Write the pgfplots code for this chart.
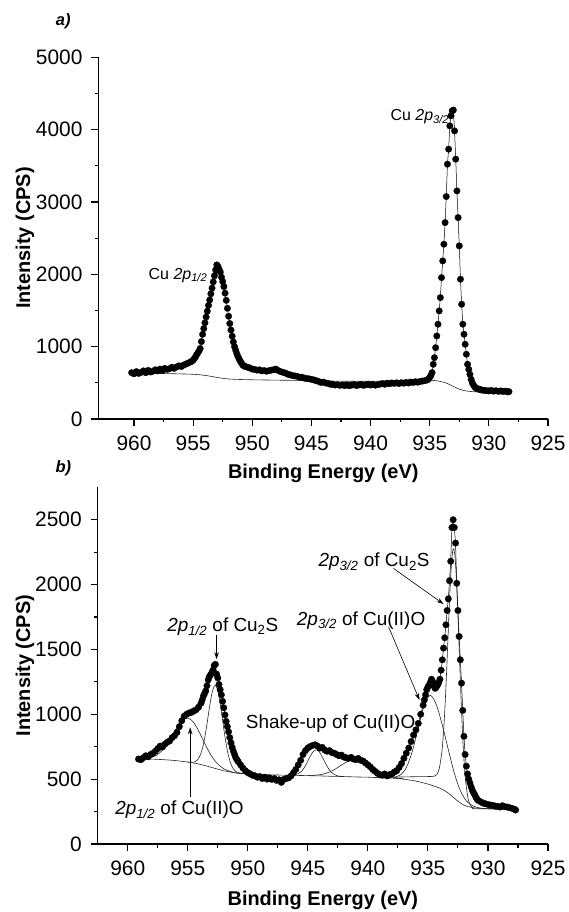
\documentclass[border=0pt]{standalone}
\usepackage{fontspec}
\setmainfont{Liberation Sans}
\usepackage{pgfplots}
\pgfplotsset{compat=1.18}
\usepackage{pgfplotstable}
\usetikzlibrary{arrows.meta}

\pgfplotstableread{
x y
960.2 640
960.0 625
959.8 655
959.6 630
959.4 645
959.2 665
959.0 640
958.8 672
958.6 650
958.4 660
958.2 680
958.0 665
957.8 690
957.6 675
957.4 700
957.2 685
957.0 695
956.8 715
956.6 700
956.4 720
956.2 735
956.0 725
955.8 745
955.6 760
955.4 775
955.2 790
955.1 800
955.0 815
954.9 835
954.8 860
954.7 890
954.6 915
954.5 940
954.4 975
954.3 1070
954.2 1170
954.1 1250
954.0 1330
953.9 1410
953.8 1490
953.7 1570
953.6 1645
953.5 1730
953.4 1810
953.3 1895
953.2 1980
953.1 2060
953.0 2130
952.9 2110
952.8 2070
952.7 2030
952.6 1960
952.5 1900
952.4 1830
952.3 1740
952.2 1640
952.1 1530
952.0 1420
951.9 1320
951.8 1230
951.7 1145
951.6 1065
951.5 1000
951.4 950
951.3 900
951.2 860
951.1 825
951.0 795
950.9 770
950.8 745
950.7 735
950.6 725
950.4 715
950.2 705
950.0 690
949.8 685
949.6 675
949.4 680
949.2 665
949.0 670
948.8 660
948.6 668
948.4 675
948.2 680
948.0 690
947.8 670
947.6 655
947.4 645
947.2 635
947.0 620
946.8 610
946.6 600
946.4 595
946.2 590
946.0 575
945.8 578
945.6 565
945.4 560
945.2 555
945.0 548
944.8 540
944.6 530
944.4 520
944.2 505
944.0 510
943.8 498
943.6 492
943.4 480
943.2 478
943.0 470
942.8 475
942.6 465
942.4 472
942.2 462
942.0 470
941.8 460
941.6 468
941.4 475
941.2 462
941.0 470
940.8 478
940.6 465
940.4 472
940.2 480
940.0 470
939.8 478
939.6 468
939.4 475
939.2 482
939.0 490
938.8 480
938.6 495
938.4 488
938.2 498
938.0 492
937.8 500
937.6 490
937.4 502
937.2 495
937.0 505
936.8 498
936.6 510
936.4 505
936.2 515
936.0 508
935.8 520
935.6 525
935.4 530
935.2 540
935.1 555
935.0 575
934.9 600
934.8 641
934.7 756
934.6 848
934.5 986
934.4 1148
934.3 1310
934.2 1494
934.1 1678
934.0 1954
933.9 2185
933.8 2416
933.7 2715
933.6 3075
933.5 3522
933.4 3730
933.3 4052
933.2 4191
933.1 4260
933.0 4270
932.9 3983
932.8 3592
932.7 3153
932.6 2784
932.5 2393
932.4 1932
932.3 1586
932.2 1310
932.1 1171
932.0 1033
931.9 895
931.8 756
931.7 687
931.6 618
931.5 549
931.4 500
931.3 470
931.2 445
931.1 430
931.0 420
930.9 415
930.8 410
930.7 405
930.6 400
930.4 395
930.2 392
930.0 388
929.8 395
929.6 385
929.4 390
929.2 382
929.0 388
928.8 380
928.6 385
928.4 375
928.3 378
}\dataA

\pgfplotstableread{
x y
960.2 635
959 632
958 630
957 627
956 623
955 618
954.5 612
954 603
953.5 590
953 575
952.5 562
952 553
951 546
950 542
948 537
946 533
944 527
942 522
940 522
938 527
936 533
935 535
934.5 530
934 515
933.5 490
933 450
932.5 412
932 390
931.5 380
931 376
928.3 375
}\bgA

\pgfplotstableread{
x y
959.1 655
958.9 650
958.7 665
958.5 680
958.3 672
958.1 690
957.9 700
957.7 715
957.5 735
957.3 755
957.1 748
956.9 770
956.7 785
956.5 795
956.3 820
956.1 835
955.9 860
955.7 905
955.5 950
955.3 985
955.1 1000
954.9 1010
954.7 1015
954.5 1025
954.3 1035
954.1 1055
953.9 1085
953.8 1110
953.7 1140
953.6 1160
953.5 1180
953.4 1220
953.3 1265
953.2 1290
953.1 1305
953.0 1320
952.9 1340
952.8 1375
952.7 1385
952.6 1310
952.5 1280
952.4 1230
952.3 1190
952.2 1150
952.1 1100
952.0 1050
951.9 995
951.8 945
951.7 905
951.6 865
951.5 820
951.4 780
951.3 745
951.2 715
951.1 690
951.0 665
950.9 650
950.8 635
950.6 610
950.4 585
950.2 565
950.0 550
949.8 540
949.6 530
949.4 525
949.2 515
949.0 520
948.8 505
948.6 515
948.4 500
948.2 510
948.0 498
947.8 505
947.6 490
947.4 495
947.2 475
947.0 498
946.8 505
946.6 510
946.4 525
946.2 550
946.0 575
945.8 610
945.6 645
945.4 690
945.2 720
945.0 740
944.8 752
944.6 760
944.4 765
944.2 755
944.0 740
943.8 745
943.6 725
943.4 715
943.2 720
943.0 705
942.8 700
942.6 690
942.4 680
942.2 685
942.0 670
941.8 665
941.6 660
941.4 668
941.2 655
941.0 650
940.8 660
940.6 645
940.4 640
940.2 625
940.0 610
939.8 595
939.6 575
939.4 560
939.2 545
939.0 535
938.8 530
938.6 540
938.4 525
938.2 535
938.0 540
937.8 555
937.6 565
937.4 590
937.2 620
937.0 660
936.8 700
936.6 740
936.4 790
936.2 840
936.0 880
935.8 930
935.6 1000
935.4 1070
935.3 1110
935.2 1150
935.1 1190
935.0 1210
934.9 1225
934.8 1245
934.7 1270
934.6 1250
934.5 1220
934.4 1200
934.3 1210
934.2 1225
934.1 1245
934.0 1270
933.9 1340
933.8 1420
933.7 1510
933.6 1590
933.5 1690
933.4 1800
933.3 1890
933.2 2030
933.1 2180
933.0 2440
932.9 2500
932.8 2440
932.7 2320
932.6 2010
932.5 1800
932.4 1600
932.3 1420
932.2 1240
932.1 1030
932.0 830
931.9 690
931.8 600
931.7 540
931.6 500
931.5 470
931.4 440
931.3 415
931.2 395
931.1 380
931.0 360
930.9 345
930.8 335
930.6 325
930.4 315
930.2 310
930.0 305
929.8 300
929.6 298
929.4 292
929.2 290
929.0 285
928.8 295
928.6 288
928.4 285
928.2 280
928.0 275
927.8 268
927.7 262
}\dataB

\pgfplotstableread{
x y
958.3 656
957 650
956 643
955 632
954.5 624
954 615
953.5 603
953 590
952.5 577
952 565
951.5 556
951 548
950 540
948 533
946 529
945 527
944 525
943 522
942 520
941 517
940 515
939 511
938 508
937.5 504
937 500
936.5 493
936 485
935.5 474
935 462
934.5 447
934 430
933.5 405
933 370
932.5 330
932 300
931.5 285
931 277
930 272
929 270
927.8 270
}\fitBzero

\pgfplotstableread{
x y
958.3 660
958 668
957.5 690
957 735
956.5 803
956 883
955.5 950
955 972
954.5 936
954 855
953.5 759
953 675
952.5 616
952 580
951.5 561
951 548
950 540
}\fitBone

\pgfplotstableread{
x y
955.0 632
954.7 630
954.45 632
954.2 647
953.95 687
953.7 767
953.45 895
953.2 1048
952.95 1177
952.7 1223
952.45 1164
952.2 1023
951.95 857
951.7 719
951.45 628
951.2 579
950.95 556
950.7 548
950.0 540
}\fitBtwo

\pgfplotstableread{
x y
946.3 532
946.05 535
945.8 542
945.55 558
945.3 588
945.05 630
944.8 676
944.55 712
944.3 726
944.05 711
943.8 673
943.55 626
943.3 584
943.05 553
942.8 536
942.55 526
942.3 522
}\fitBthree

\pgfplotstableread{
x y
945.0 528
944.5 530
944.0 534
943.5 545
943.0 563
942.5 590
942.0 620
941.5 644
941.0 652
940.5 641
940.0 615
939.5 582
939.0 552
938.5 531
938.0 517
937.5 508
937.0 501
}\fitBfour

\pgfplotstableread{
x y
937.8 515
937.3 532
936.8 589
936.3 714
935.8 897
935.3 1075
934.8 1146
934.3 1074
933.8 916
933.3 727
932.8 546
932.3 411
931.8 333
931.3 296
930.8 280
930.3 274
929.5 271
927.8 270
}\fitBfive

\pgfplotstableread{
x y
939.5 513
938 515
937 517
936 519
935 520
934.45 523
934.25 537
934.05 583
933.85 701
933.75 801
933.65 937
933.55 1110
933.45 1315
933.35 1540
933.25 1766
933.15 1977
933.05 2144
932.95 2251
932.85 2276
932.75 2219
932.65 2080
932.55 1882
932.45 1642
932.35 1388
932.25 1141
932.15 918
932.05 732
931.95 585
931.85 476
931.65 347
931.45 296
931.25 276
931.0 271
927.8 270
}\fitBsix

\newcommand{\tickfont}{\fontsize{21}{24}\selectfont}
\pgfplotsset{
  xps/.style={
    scale only axis,
    x dir=reverse,
    xmin=925,
    axis x line*=bottom, axis y line*=left,
    axis line style={-, line width=1.1bp},
    tick align=outside,
    xtick={925,930,...,960},
    minor x tick num=1, minor y tick num=1,
    major tick length=7bp, minor tick length=3.5bp,
    every tick/.style={black, line width=1.1bp},
    /pgf/number format/assume math mode=true,
    /pgf/number format/1000 sep={},
    scaled ticks=false,
    xticklabel style={font=\tickfont, anchor=north, yshift=-6bp},
    yticklabel style={font=\tickfont, anchor=east, xshift=-5.5bp},
    every axis label/.append style={font=\fontsize{20}{24}\selectfont\bfseries},
    clip=false,
  },
  datast/.style={black, line width=0.5bp, mark=*, mark size=3.3bp,
    mark options={fill=black, draw=black, line width=0.2bp}},
  fitst/.style={black!85, line width=0.6bp, smooth, no markers},
}

\begin{document}
\begin{tikzpicture}
% ---------------- a) ----------------
\begin{axis}[xps,
  at={(98.5bp,493bp)}, anchor=south west,
  width=449.5bp, height=361.7bp,
  xmax=963, ymin=0, ymax=5000,
  ytick={0,1000,...,5000},
  xlabel={Binding Energy (eV)},
  ylabel={Intensity (CPS)},
  xlabel style={at={(axis description cs:0.5,-0.1493)}, anchor=center},
  ylabel style={at={(axis description cs:-0.1635,0.5)}, anchor=center},
]
\addplot[fitst] table[x=x,y=y] {\bgA};
\addplot[datast] table[x=x,y=y] {\dataA};
\node[anchor=base west, font=\fontsize{16}{19}\selectfont] at (axis cs:959.05,1935) {Cu \textit{2p}\textsubscript{\textit{1/2}}};
\node[anchor=base west, font=\fontsize{16}{19}\selectfont] at (axis cs:938.6,4123) {Cu \textit{2p}\textsubscript{\textit{3/2}}};
\end{axis}
% ---------------- b) ----------------
\begin{axis}[xps,
  at={(97.7bp,68bp)}, anchor=south west,
  width=450.3bp, height=356.7bp,
  xmax=962.5, ymin=0, ymax=2750,
  ytick={0,500,...,2500},
  xlabel={Binding Energy (eV)},
  ylabel={Intensity (CPS)},
  xlabel style={at={(axis description cs:0.5,-0.157)}, anchor=center},
  ylabel style={at={(axis description cs:-0.1614,0.5)}, anchor=center},
]
\addplot[fitst] table[x=x,y=y] {\fitBzero};
\addplot[fitst] table[x=x,y=y] {\fitBone};
\addplot[fitst] table[x=x,y=y] {\fitBtwo};
\addplot[fitst] table[x=x,y=y] {\fitBthree};
\addplot[fitst] table[x=x,y=y] {\fitBfour};
\addplot[fitst] table[x=x,y=y] {\fitBfive};
\addplot[fitst] table[x=x,y=y] {\fitBsix};
\addplot[datast] table[x=x,y=y] {\dataB};
\node[anchor=base west, font=\fontsize{19}{22}\selectfont] at (axis cs:957.0,1637) {\textit{2p}\textsubscript{\textit{1/2}} of Cu\textsubscript{2}S};
\node[anchor=base west, font=\fontsize{19}{22}\selectfont] at (axis cs:950.45,892) {Shake-up of Cu(II)O};
\node[anchor=base west, font=\fontsize{19}{22}\selectfont] at (axis cs:961.33,224) {\textit{2p}\textsubscript{\textit{1/2}} of Cu(II)O};
\node[anchor=base west, font=\fontsize{19}{22}\selectfont] at (axis cs:944.4,2138) {\textit{2p}\textsubscript{\textit{3/2}} of Cu\textsubscript{2}S};
\node[anchor=base west, font=\fontsize{19}{22}\selectfont] at (axis cs:946.2,1688) {\textit{2p}\textsubscript{\textit{3/2}} of Cu(II)O};
\draw[-{Stealth[length=7bp,width=4.5bp]}, line width=0.6bp] (axis cs:954.8,365) -- (axis cs:954.8,900);
\draw[-{Stealth[length=7bp,width=4.5bp]}, line width=0.6bp] (axis cs:952.6,1611) -- (axis cs:952.6,1424);
\draw[-{Stealth[length=7bp,width=4.5bp]}, line width=0.6bp] (axis cs:937.87,2125) -- (axis cs:933.7,1850);
\draw[-{Stealth[length=7bp,width=4.5bp]}, line width=0.6bp] (axis cs:938.28,1675) -- (axis cs:935.7,1110);
\end{axis}
\node[font=\fontsize{16.5}{19}\selectfont\bfseries\itshape] at (63.3bp,890.3bp) {a)};
\node[font=\fontsize{16.5}{19}\selectfont\bfseries\itshape] at (63.3bp,443.7bp) {b)};
\pgfresetboundingbox
\path (0,0) rectangle (569bp,912bp);
\end{tikzpicture}
\end{document}
